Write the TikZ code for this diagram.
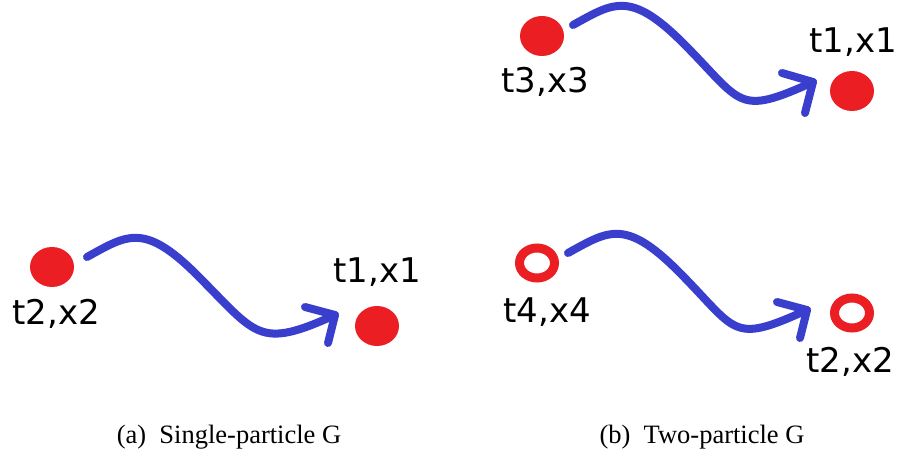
\documentclass[tikz,border=0pt]{standalone}
\usepackage{fontspec}
\setmainfont{Liberation Serif}
\newfontfamily\lblfont{DejaVu Sans}
\usetikzlibrary{shapes.geometric}
\definecolor{dotred}{RGB}{235,30,35}
\definecolor{arrblue}{RGB}{58,62,205}
\begin{document}
\begin{tikzpicture}[x=1pt,y=-1pt,
  dot/.style={ellipse, fill=dotred, inner sep=0pt, minimum width=44pt, minimum height=40pt},
  ring/.style={ellipse, draw=dotred, line width=9pt, fill=white, inner sep=0pt, minimum width=35pt, minimum height=30pt},
  lbl/.style={font=\lblfont\fontsize{34}{40}\selectfont, anchor=base, inner sep=0pt},
  captext/.style={font=\fontsize{26.5}{30}\selectfont, anchor=base, inner sep=0pt},
  wave/.style={draw=arrblue, line width=8pt, line cap=round, line join=round}]
\path[use as bounding box, fill=white] (0,0) rectangle (900,457);

% (a) single particle
\node[dot] (a2) at (52,267) {};
\node[dot] (a1) at (377,326) {};
\node[lbl] (la2) at (56,324) {t2,x2};
\node[lbl] (la1) at (377,283) {t1,x1};
\coordinate (aS) at (87,257);
\coordinate (aM) at (197,275);
\coordinate (aE) at (335,315);
\draw[wave] (aS) .. controls +(40,-22) and +(-53,-53) .. (aM)
  .. controls +(60,60) and +(-77,35) .. (aE);
\draw[wave] (aE) ++(-30,-8) -- (aE) -- ++(-7,28);

% (b) top
\node[dot] (b3) at (542,36) {};
\node[dot] (b1) at (852,91) {};
\node[lbl] (lb3) at (545,93) {t3,x3};
\node[lbl] (lb1) at (853,53) {t1,x1};
\coordinate (bS) at (573,25);
\coordinate (bM) at (683,43);
\coordinate (bE) at (813,82);
\draw[wave] (bS) .. controls +(40,-22) and +(-53,-53) .. (bM)
  .. controls +(60,60) and +(-77,35) .. (bE);
\draw[wave] (bE) ++(-31,-9) -- (bE) -- ++(-8,31);

% (b) bottom
\node[ring] (b4) at (537,263) {};
\node[ring] (b2) at (852,313) {};
\node[lbl] (lb4) at (547,322) {t4,x4};
\node[lbl] (lb2) at (850,372) {t2,x2};
\coordinate (cS) at (568,253);
\coordinate (cM) at (678,271);
\coordinate (cE) at (807,310);
\draw[wave] (cS) .. controls +(40,-22) and +(-53,-53) .. (cM)
  .. controls +(60,60) and +(-77,35) .. (cE);
\draw[wave] (cE) ++(-30,-8) -- (cE) -- ++(-7,28);

% captions
\node[captext] (capa) at (229,443) {(a)\enspace Single-particle G};
\node[captext] (capb) at (702,443) {(b)\enspace Two-particle G};
\end{tikzpicture}
\end{document}
